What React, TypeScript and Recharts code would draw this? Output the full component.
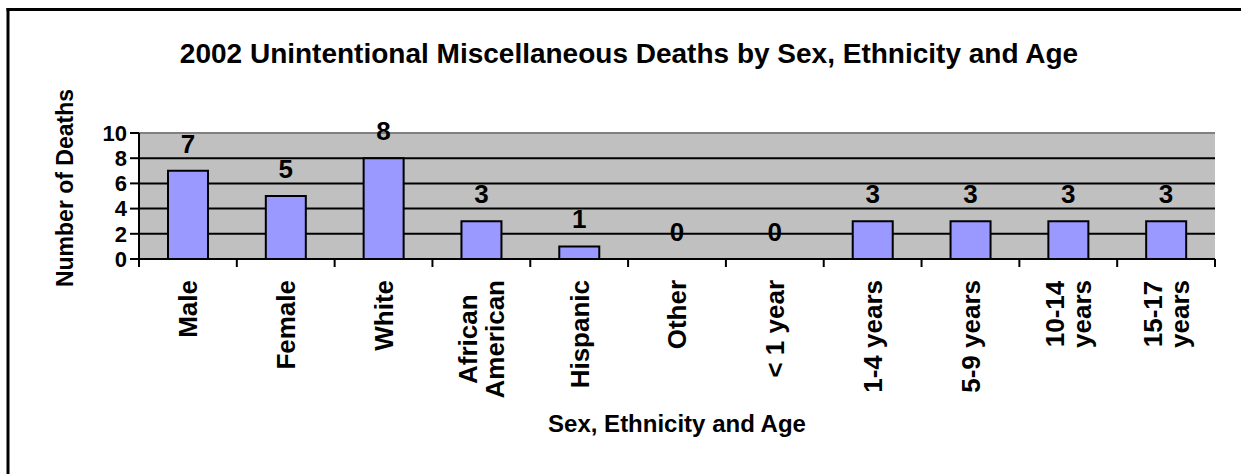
import { ComposedChart, Bar, Line, XAxis, YAxis, CartesianGrid, ReferenceLine, LabelList } from "recharts"

const categories = [
  "Male",
  "Female",
  "White",
  "African\nAmerican",
  "Hispanic",
  "Other",
  "< 1 year",
  "1-4 years",
  "5-9 years",
  "10-14\nyears",
  "15-17\nyears",
]
const deaths = [7, 5, 8, 3, 1, 0, 0, 3, 3, 3, 3]
const yTicks = [0, 2, 4, 6, 8, 10]

const data = categories.map((name, i) => ({ name, deaths: deaths[i] }))

const FONT = "'Liberation Sans', Arial, sans-serif"
const W = 1241
const H = 474
const PLOT_LEFT = 139
const PLOT_RIGHT = 1215
const BAND = (PLOT_RIGHT - PLOT_LEFT) / categories.length

let ctx: CanvasRenderingContext2D | null = null
function textWidth(s: string, size: number) {
  if (!ctx) ctx = document.createElement("canvas").getContext("2d")
  if (!ctx) return s.length * size * 0.6
  ctx.font = `bold ${size}px ${FONT}`
  return ctx.measureText(s).width
}

function CategoryTick(props: any) {
  const { x, y, payload, index } = props
  const lines: string[] = String(payload.value).split("\n")
  const size = 26
  const lineGap = 27
  const maxW = Math.max(...lines.map((l) => textWidth(l, size)))
  const top = y + 21
  const cy = top + maxW / 2
  return (
    <g>
      <line x1={x - BAND / 2} x2={x - BAND / 2} y1={y} y2={y + 8} stroke="#000" strokeWidth={2} />
      {index === categories.length - 1 && (
        <line x1={x + BAND / 2} x2={x + BAND / 2} y1={y} y2={y + 8} stroke="#000" strokeWidth={2} />
      )}
      {lines.map((l, i) => {
        const cx = x + (i - (lines.length - 1) / 2) * lineGap
        return (
          <text
            key={i}
            transform={`translate(${cx},${cy}) rotate(-90)`}
            textAnchor="middle"
            dy="0.36em"
            fontSize={size}
            fontWeight="bold"
            fontFamily={FONT}
            fill="#000"
          >
            {l}
          </text>
        )
      })}
    </g>
  )
}

export default function App() {
  return (
    <div style={{ position: "absolute", left: 0, top: 0, width: W, height: H, background: "#fff" }}>
      <ComposedChart
        width={W}
        height={H}
        data={data}
        margin={{ top: 133, right: W - PLOT_RIGHT, bottom: 0, left: 0 }}
        barCategoryGap={0}
      >
        <CartesianGrid vertical={false} stroke="#000" strokeWidth={2} fill="#C0C0C0" fillOpacity={1} />
        <XAxis
          dataKey="name"
          interval={0}
          height={215}
          tickLine={false}
          tickSize={0}
          tickMargin={0}
          axisLine={{ stroke: "#000", strokeWidth: 2 }}
          tick={<CategoryTick />}
        />
        <YAxis
          domain={[0, 10]}
          ticks={yTicks}
          interval={0}
          width={PLOT_LEFT}
          tickSize={9}
          tickMargin={3}
          tickLine={{ stroke: "#000", strokeWidth: 2 }}
          axisLine={{ stroke: "#000", strokeWidth: 2 }}
          tick={{ fill: "#000", fontSize: 22, fontWeight: "bold", fontFamily: FONT }}
        />
        <YAxis
          yAxisId="r"
          orientation="right"
          domain={[0, 10]}
          width={0}
          tick={false}
          tickLine={false}
          axisLine={{ stroke: "#808080", strokeWidth: 2 }}
        />
        <ReferenceLine y={10} stroke="#808080" strokeWidth={2} />
        <Bar dataKey="deaths" fill="#9999FF" stroke="#000" strokeWidth={2} barSize={40} isAnimationActive={false} />
        <Line dataKey="deaths" stroke="none" dot={false} activeDot={false} isAnimationActive={false}>
          <LabelList
            dataKey="deaths"
            position="top"
            offset={18}
            fill="#000"
            fontSize={26}
            fontWeight="bold"
            fontFamily={FONT}
          />
        </Line>
      </ComposedChart>
      <svg
        width={W}
        height={H}
        style={{ position: "absolute", left: 0, top: 0, pointerEvents: "none" }}
      >
        <line x1={6.5} x2={W} y1={9.5} y2={9.5} stroke="#000" strokeWidth={3} />
        <line x1={8} x2={8} y1={8} y2={H} stroke="#000" strokeWidth={3} />
        <text x={629} y={63} textAnchor="middle" fontSize={28} fontWeight="bold" fontFamily={FONT} fill="#000">
          2002 Unintentional Miscellaneous Deaths by Sex, Ethnicity and Age
        </text>
        <text
          transform="translate(65,188) rotate(-90)"
          textAnchor="middle"
          dy="0.36em"
          fontSize={23}
          fontWeight="bold"
          fontFamily={FONT}
          fill="#000"
        >
          Number of Deaths
        </text>
        <text x={677} y={432} textAnchor="middle" fontSize={24} fontWeight="bold" fontFamily={FONT} fill="#000">
          Sex, Ethnicity and Age
        </text>
      </svg>
    </div>
  )
}
